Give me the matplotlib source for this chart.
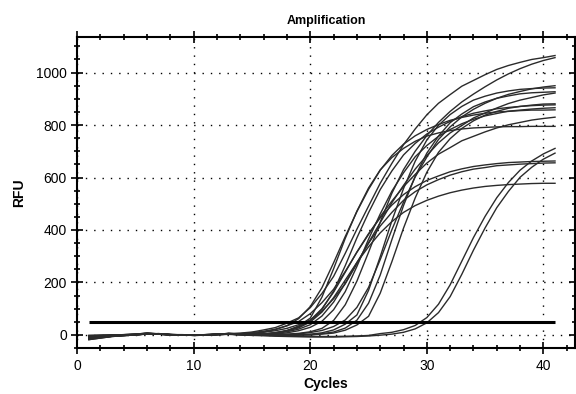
import matplotlib
matplotlib.use("Agg")
import matplotlib.pyplot as plt
from matplotlib.ticker import MultipleLocator

plt.rcParams['font.family'] = ['Liberation Sans', 'DejaVu Sans']

cycles = list(range(1, 42))
threshold = 50

# RFU per cycle (1..41), one list per well
e1 = [-14, -9, -5, -2, 1, 5, 4, 1, 0, -1, 0, 2, 5, 7, 11, 19, 28, 45, 65, 104, 158, 223, 311, 403, 491,
      578, 654, 725, 785, 839, 883, 916, 948, 970, 992, 1012, 1027, 1039, 1050, 1057, 1065]
e2 = [-6, -4, -2, 0, 2, 6, 3, 0, -1, 0, 1, 3, 5, 3, 1, 3, 6, 16, 34, 64, 144, 252, 368, 472, 560,
      629, 676, 711, 738, 758, 770, 779, 785, 789, 791, 793, 794, 794, 795, 795, 795]
e3 = [-18, -12, -6, -3, 0, 4, 5, 2, 0, -2, -1, 1, 3, 1, -1, 3, 8, 15, 27, 49, 87, 142, 209, 276, 336,
      389, 432, 467, 493, 513, 529, 542, 552, 560, 566, 570, 573, 575, 577, 578, 578]
e4 = [-2, -1, 0, 1, 3, 7, 4, 1, 1, 0, 0, 2, 6, 3, 1, 3, 9, 17, 31, 56, 100, 163, 239, 316, 386,
      446, 495, 535, 565, 589, 606, 622, 633, 642, 648, 653, 657, 659, 661, 662, 663]
e5 = [-10, -7, -4, -1, 1, 4, 3, 0, -1, -1, 0, 2, 3, 3, 1, 3, 6, 12, 22, 39, 72, 125, 197, 276, 349,
      415, 467, 513, 546, 572, 592, 609, 622, 632, 638, 645, 648, 651, 653, 655, 656]
e6 = [-12, -8, -4, -1, 2, 5, 3, 1, 0, -1, 1, 3, 4, 4, 5, 10, 16, 25, 39, 57, 90, 138, 195, 271, 352,
      428, 504, 570, 632, 684, 732, 770, 798, 827, 846, 865, 882, 895, 905, 915, 922]
e7 = [-8, -5, -2, 0, 2, 5, 3, 0, -1, 0, 1, 3, 5, 3, 2, 4, 8, 16, 29, 53, 97, 167, 264, 370, 466,
      554, 625, 686, 730, 766, 792, 814, 832, 845, 854, 862, 867, 871, 874, 876, 877]
e8 = [-16, -10, -5, -2, 0, 4, 4, 1, 0, -2, -1, 1, 3, 1, 1, 2, 3, 8, 16, 29, 52, 96, 165, 261, 365,
      461, 548, 618, 679, 722, 757, 783, 805, 822, 835, 844, 853, 857, 861, 864, 866]
e9 = [-4, -2, 0, 1, 3, 6, 4, 1, 0, 0, 0, 2, 5, 4, 5, 11, 20, 35, 62, 108, 180, 275, 375, 470, 555,
      628, 684, 727, 759, 783, 802, 818, 829, 838, 845, 850, 852, 855, 857, 857, 858]
e10 = [-12, -8, -4, -1, 1, 4, 3, 0, -1, -1, 0, 2, 4, 5, 9, 14, 22, 35, 51, 81, 123, 174, 242, 315, 383,
       451, 510, 565, 612, 655, 689, 714, 740, 757, 774, 789, 801, 810, 819, 825, 830]
s1 = [-8, -6, -3, -1, 1, 5, 4, 1, 0, -1, 0, 2, 4, 2, 0, 1, 2, 3, 6, 12, 25, 55, 115, 205, 315,
      430, 540, 630, 700, 760, 810, 852, 888, 918, 946, 972, 995, 1015, 1032, 1046, 1057]
s2 = [-14, -9, -5, -2, 0, 4, 4, 1, 0, -1, 0, 1, 3, 2, 0, 0, 1, 2, 4, 9, 17, 32, 57, 105, 181,
      287, 401, 506, 602, 678, 745, 793, 831, 860, 883, 902, 917, 928, 938, 945, 950]
s3 = [-6, -4, -2, 0, 2, 6, 3, 0, -1, 0, 1, 3, 5, 3, 1, 1, 0, -1, 0, 3, 8, 19, 41, 76, 170,
      298, 435, 558, 662, 743, 799, 840, 871, 895, 910, 922, 930, 936, 939, 941, 942]
s4 = [-18, -12, -6, -3, 0, 4, 5, 2, 0, -2, -1, 1, 3, 1, -1, 0, -1, -2, -1, 0, 5, 11, 26, 56, 121,
      228, 363, 493, 605, 693, 758, 809, 842, 870, 888, 902, 911, 919, 923, 925, 927]
s5 = [-2, -1, 0, 1, 3, 7, 4, 1, 1, 0, 0, 2, 6, 3, 1, 2, 1, 0, 1, 1, 3, 7, 18, 38, 71,
      159, 279, 407, 522, 620, 696, 748, 787, 816, 838, 852, 864, 871, 876, 880, 881]
l1 = [-10, -7, -4, -1, 1, 4, 3, 0, -1, -1, 0, 2, 3, 1, -1, -2, -3, -4, -5, -5, -6, -6, -5, -4, -2,
      5, 10, 20, 36, 66, 117, 191, 281, 371, 452, 523, 581, 628, 663, 690, 711]
l2 = [-15, -10, -5, -2, 0, 3, 4, 1, 0, -1, -1, 1, 2, 0, -2, -3, -5, -6, -7, -8, -8, -8, -7, -6, -4,
      -1, 3, 10, 23, 46, 85, 146, 231, 323, 408, 485, 547, 601, 639, 670, 693]

wells = [e1, e2, e3, e4, e5, e6, e7, e8, e9, e10, s1, s2, s3, s4, s5, l1, l2]

fig = plt.figure(figsize=(5.76, 3.94), dpi=100)
ax = fig.add_axes([0.134, 0.116, 0.864, 0.789])

for rfu in wells:
    ax.plot(cycles, rfu, color='#2b2b2b', lw=1.0)

ax.hlines(threshold, cycles[0], cycles[-1], color='black', lw=2.2)

ax.set_xlim(0, 42.7)
ax.set_ylim(-51, 1134)
ax.xaxis.set_major_locator(MultipleLocator(10))
ax.xaxis.set_minor_locator(MultipleLocator(2))
ax.yaxis.set_major_locator(MultipleLocator(200))
ax.yaxis.set_minor_locator(MultipleLocator(50))
ax.grid(which='major', color='black', linestyle=(0, (1, 5)), lw=1.0)

ax.tick_params(which='both', direction='inout', top=True, right=True, labelsize=10, width=1.2)
ax.tick_params(which='major', length=8)
ax.tick_params(which='minor', length=5)
for sp in ax.spines.values():
    sp.set_linewidth(1.5)

ax.set_title('Amplification', fontsize=9, fontweight='bold', pad=10)
ax.set_xlabel('Cycles', fontsize=10, fontweight='bold', labelpad=3)
ax.set_ylabel('RFU', fontsize=10, fontweight='bold', labelpad=7)

fig.savefig('out.png', dpi=100)
